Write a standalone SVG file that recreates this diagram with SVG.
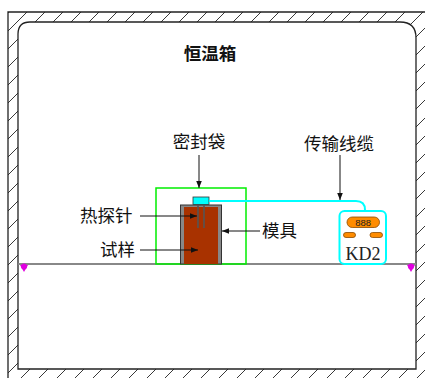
<svg xmlns="http://www.w3.org/2000/svg" width="425" height="378" viewBox="0 0 425 378">
  <defs>
    <pattern id="hatch" patternUnits="userSpaceOnUse" x="0" y="3" width="18" height="18">
      <path d="M-2,20 L20,-2" stroke="#222" stroke-width="0.9" fill="none"/>
    </pattern>
    <marker id="arr" viewBox="0 0 10 10" refX="10" refY="5" markerWidth="9" markerHeight="7" markerUnits="userSpaceOnUse" orient="auto">
      <path d="M0,1 L10,5 L0,9 Z" fill="#111"/>
    </marker>
  </defs>
  <style>
    .lbl { font-family: "Noto Sans CJK SC", "Noto Sans", sans-serif; font-size: 17.5px; fill: #111; }
    .lead { stroke: #111; stroke-width: 1; fill: none; marker-end: url(#arr); }
    .wall { stroke: #222; stroke-width: 1.3; }
    .pad { fill: #ff8c00; stroke: #8a4a00; stroke-width: 0.8; }
  </style>
  <rect width="425" height="378" fill="#ffffff"/>

  <!-- chamber walls with hatching -->
  <g id="chamber">
    <path fill="url(#hatch)" fill-rule="evenodd"
          d="M8,12 H425 V378 H8 Z M18,34 Q18,22 30,22 H400 Q416,22 416,38 V369 H18 Z"/>
    <path class="wall" fill="none" d="M8,378 V12 H425"/>
    <path class="wall" fill="none" d="M18,369 V34 Q18,22 30,22 H400 Q416,22 416,38 V369 Z"/>
    <text class="lbl" x="210" y="60" text-anchor="middle" font-weight="bold">恒温箱</text>
  </g>

  <!-- shelf with supports -->
  <g id="shelf">
    <line x1="18" y1="264" x2="416" y2="264" stroke="#888" stroke-width="2"/>
    <path d="M20,265 H28 L24,272 Z" fill="#e000e0"/>
    <circle cx="24" cy="266.5" r="3" fill="#e000e0"/>
    <path d="M407,265 H415 L411,272 Z" fill="#e000e0"/>
    <circle cx="411" cy="266.5" r="3" fill="#e000e0"/>
  </g>

  <!-- sealed bag -->
  <g id="bag">
    <rect x="156" y="188" width="90" height="76" fill="none" stroke="#00ee00" stroke-width="1.5"/>
    <text class="lbl" x="199" y="148" text-anchor="middle">密封袋</text>
  </g>

  <!-- mould holding the sample -->
  <g id="mould">
    <rect x="180.5" y="205" width="41" height="59" fill="#888" stroke="#333" stroke-width="1"/>
    <rect x="184" y="207" width="34" height="57" fill="#a83200"/>
    <text class="lbl" x="262" y="237">模具</text>
  </g>

  <!-- sample -->
  <g id="sample">
    <text class="lbl" x="100" y="256">试样</text>
  </g>

  <!-- thermal probe with sensor head -->
  <g id="probe">
    <rect x="193" y="197" width="16" height="7.5" fill="#00ffff" stroke="#333" stroke-width="0.8"/>
    <line x1="198" y1="205" x2="198" y2="228" stroke="#555" stroke-width="1.6"/>
    <line x1="204" y1="205" x2="204" y2="228" stroke="#555" stroke-width="1.6"/>
    <text class="lbl" x="80" y="222">热探针</text>
  </g>

  <!-- transmission cable label -->
  <g id="cable">
    <text class="lbl" x="339" y="150" text-anchor="middle">传输线缆</text>
  </g>

  <!-- KD2 meter -->
  <g id="kd2">
    <rect x="339.5" y="211" width="46.5" height="53" rx="5" fill="#fff" stroke="#00ffff" stroke-width="2"/>
    <rect x="347" y="217" width="32.5" height="10.5" rx="5.2" class="pad"/>
    <text x="363.2" y="225.5" text-anchor="middle" font-family="Liberation Sans, sans-serif" font-size="9.5" fill="#222">888</text>
    <rect x="343.5" y="232.5" width="12" height="5" rx="2.5" class="pad"/>
    <rect x="370" y="232.5" width="12.5" height="5" rx="2.5" class="pad"/>
    <text x="363" y="260" text-anchor="middle" font-family="Liberation Serif, serif" font-size="18" fill="#222">KD2</text>
  </g>

  <!-- connectors: cable and leader arrows -->
  <g id="connectors">
    <path d="M209,201 H356 Q365,201 365,210" stroke="#00ffff" stroke-width="2" fill="none"/>
    <line class="lead" x1="199" y1="155" x2="199" y2="188"/>
    <line class="lead" x1="340" y1="155" x2="340" y2="200"/>
    <line class="lead" x1="140" y1="216" x2="197" y2="216"/>
    <line class="lead" x1="140" y1="250" x2="198" y2="250"/>
    <line class="lead" x1="260" y1="231" x2="222" y2="231"/>
  </g>
</svg>
